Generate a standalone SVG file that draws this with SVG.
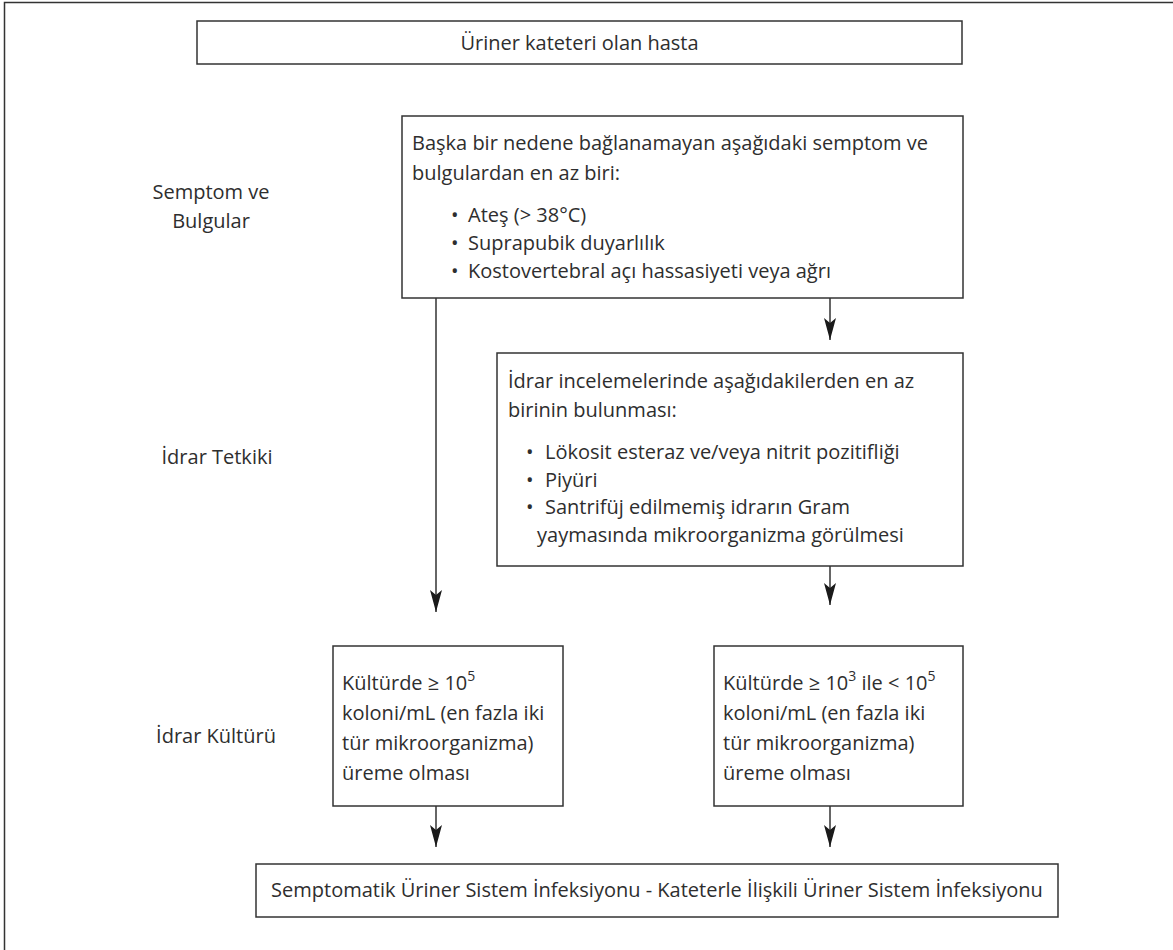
<svg xmlns="http://www.w3.org/2000/svg" width="1173" height="950" viewBox="0 0 1173 950">
<style>
  .box { fill: #ffffff; stroke: #333333; stroke-width: 1.5; }
  .frame { fill: none; stroke: #333333; stroke-width: 1.5; }
  .t { font-family: "Open Sans", "Noto Sans", "DejaVu Sans", sans-serif; font-size: 20px; fill: #2e2e2e; }
  .c { text-anchor: middle; }
  .conn { fill: none; stroke: #333333; stroke-width: 1.5; marker-end: url(#arr); }
</style>
<defs>
  <marker id="arr" markerUnits="userSpaceOnUse" markerWidth="24" markerHeight="14" viewBox="0 -7 24 14" refX="22" refY="0" orient="auto">
    <path d="M0,-6 L22,0 L0,6 L5,0 Z" fill="#1a1a1a"/>
  </marker>
</defs>
<rect width="1173" height="950" fill="#ffffff"/>
<g id="frame">
  <path class="frame" d="M4.5,950 L4.5,2.5 L1173,2.5"/>
</g>
<g id="labels">
  <text class="t c" x="211" y="199">Semptom ve</text>
  <text class="t c" x="211" y="228">Bulgular</text>
  <text class="t c" x="217" y="464">İdrar Tetkiki</text>
  <text class="t c" x="216" y="743">İdrar Kültürü</text>
</g>
<g id="connectors">
  <line class="conn" x1="436" y1="298" x2="436" y2="612"/>
  <line class="conn" x1="830" y1="298" x2="830" y2="340"/>
  <line class="conn" x1="830" y1="566" x2="830" y2="605"/>
  <line class="conn" x1="436" y1="806" x2="436" y2="847"/>
  <line class="conn" x1="830" y1="806" x2="830" y2="847"/>
</g>
<g id="node-start">
  <rect class="box" x="197" y="21" width="765" height="43"/>
  <text class="t c" x="579.5" y="50">Üriner kateteri olan hasta</text>
</g>
<g id="node-symptoms">
  <rect class="box" x="402" y="116" width="561" height="182"/>
  <text class="t" x="412" y="150">Başka bir nedene bağlanamayan aşağıdaki semptom ve</text>
  <text class="t" x="412" y="180">bulgulardan en az biri:</text>
  <text class="t" x="451" y="222">•</text><text class="t" x="468" y="222">Ateş (&gt; 38°C)</text>
  <text class="t" x="451" y="250">•</text><text class="t" x="468" y="250">Suprapubik duyarlılık</text>
  <text class="t" x="451" y="278">•</text><text class="t" x="468" y="278">Kostovertebral açı hassasiyeti veya ağrı</text>
</g>
<g id="node-urinalysis">
  <rect class="box" x="497" y="353" width="466" height="213"/>
  <text class="t" x="508" y="388">İdrar incelemelerinde aşağıdakilerden en az</text>
  <text class="t" x="508" y="417">birinin bulunması:</text>
  <text class="t" x="526" y="459">•</text><text class="t" x="545" y="459">Lökosit esteraz ve/veya nitrit pozitifliği</text>
  <text class="t" x="526" y="487">•</text><text class="t" x="545" y="487">Piyüri</text>
  <text class="t" x="526" y="514">•</text><text class="t" x="545" y="514">Santrifüj edilmemiş idrarın Gram</text>
  <text class="t" x="537" y="542">yaymasında mikroorganizma görülmesi</text>
</g>
<g id="node-culture-high">
  <rect class="box" x="333" y="646" width="230" height="160"/>
  <text class="t" x="342" y="690">Kültürde ≥ 10<tspan font-size="14" dy="-9">5</tspan></text>
  <text class="t" x="342" y="720">koloni/mL (en fazla iki</text>
  <text class="t" x="342" y="750">tür mikroorganizma)</text>
  <text class="t" x="342" y="780">üreme olması</text>
</g>
<g id="node-culture-low">
  <rect class="box" x="714" y="646" width="249" height="160"/>
  <text class="t" x="723" y="690">Kültürde ≥ 10<tspan font-size="14" dy="-9">3</tspan><tspan dy="9"> ile &lt; 10</tspan><tspan font-size="14" dy="-9">5</tspan></text>
  <text class="t" x="723" y="720">koloni/mL (en fazla iki</text>
  <text class="t" x="723" y="750">tür mikroorganizma)</text>
  <text class="t" x="723" y="780">üreme olması</text>
</g>
<g id="node-result">
  <rect class="box" x="256" y="864" width="802" height="53"/>
  <text class="t c" x="657" y="897">Semptomatik Üriner Sistem İnfeksiyonu - Kateterle İlişkili Üriner Sistem İnfeksiyonu</text>
</g>
</svg>
